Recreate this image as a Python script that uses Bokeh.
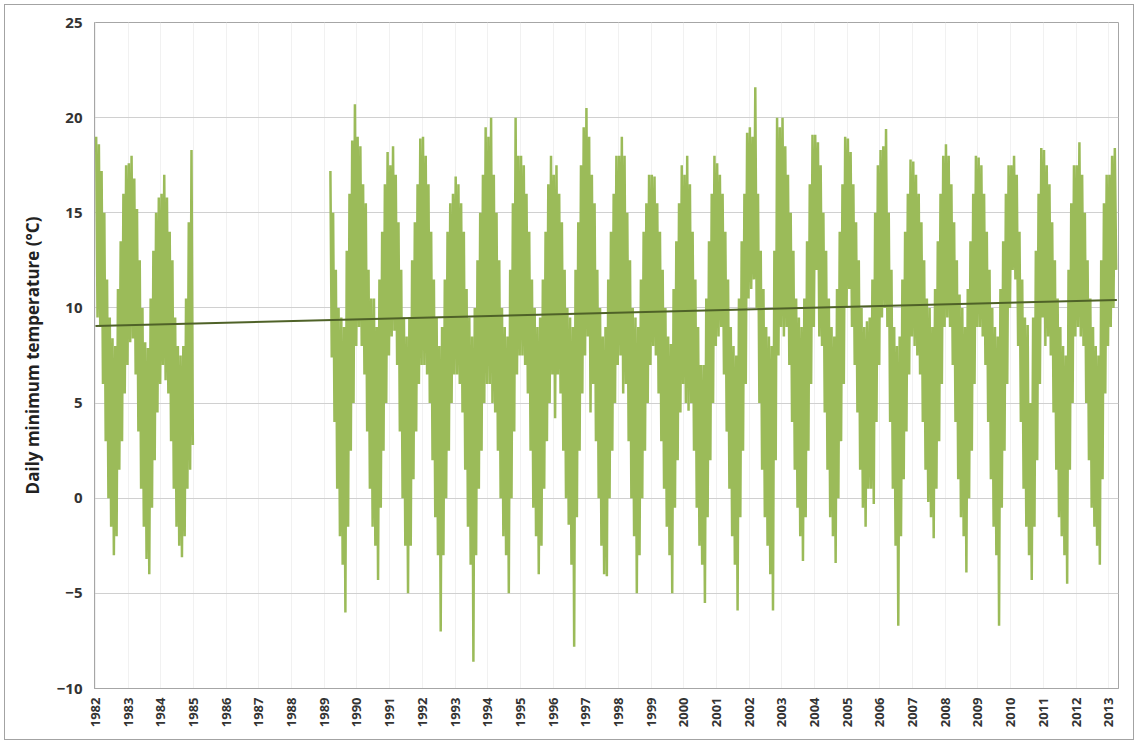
from bokeh.plotting import figure
from bokeh.models import FixedTicker, Range1d, NumeralTickFormatter
from bokeh.embed import file_html
from bokeh.resources import INLINE
import math

# ---------------- data (monthly highest / lowest daily minimum, deg C) ----------------
hi_1982 = [19.0, 18.6, 17.2, 15.0, 11.5, 9.5, 8.4, 8.0, 11.0, 13.5, 16.0, 17.5]
lo_1982 = [9.5, 9.0, 6.0, 3.0, 0.0, -1.5, -3.0, -2.0, 1.5, 3.0, 5.5, 7.0]
hi_1983 = [17.6, 18.0, 16.8, 15.2, 12.5, 10.0, 8.2, 7.9, 10.5, 13.0, 15.0, 15.8]
lo_1983 = [8.2, 8.4, 6.5, 3.5, 0.5, -1.5, -3.2, -4.0, -0.5, 2.0, 4.5, 6.0]
hi_1984 = [16.0, 17.0, 15.8, 14.0, 12.5, 9.5, 8.0, 7.5, 8.0, 10.5, 14.5, 18.3]
lo_1984 = [7.0, 6.2, 5.5, 3.0, 0.5, -1.5, -2.5, -3.1, -2.0, 0.5, 1.5, 2.8]

# 1989 record starts in March
hi_1989 = [17.2, 15.0, 12.0, 10.0, 9.5, 9.0, 13.0, 16.0, 18.8, 20.7]
lo_1989 = [7.4, 4.0, 0.5, -2.0, -3.5, -6.0, -1.5, 2.5, 5.0, 8.0]
hi_1990 = [19.0, 18.5, 16.5, 15.5, 12.0, 10.5, 10.5, 9.0, 11.5, 14.0, 16.5, 18.2]
lo_1990 = [9.0, 8.0, 6.5, 3.5, 0.5, -1.5, -2.5, -4.3, -0.5, 2.5, 5.0, 7.5]
hi_1991 = [17.5, 18.5, 17.0, 14.5, 12.0, 9.5, 8.5, 9.5, 12.5, 14.5, 16.5, 18.9]
lo_1991 = [8.5, 8.8, 7.0, 3.5, 0.0, -2.5, -5.0, -2.5, 1.0, 3.5, 6.0, 7.0]
hi_1992 = [19.0, 18.0, 16.5, 14.0, 11.5, 9.5, 8.0, 9.0, 11.5, 14.0, 15.5, 16.0]
lo_1992 = [7.0, 6.5, 5.0, 2.0, -1.0, -3.0, -7.0, -3.0, 0.0, 2.5, 5.0, 6.5]
hi_1993 = [16.9, 16.5, 15.5, 14.0, 11.0, 9.5, 8.5, 10.0, 12.5, 15.0, 17.0, 19.5]
lo_1993 = [6.5, 6.0, 4.5, 1.5, -1.5, -3.5, -8.6, -3.0, 0.5, 2.5, 5.0, 6.0]
hi_1994 = [19.0, 20.0, 17.0, 15.0, 12.5, 10.0, 9.0, 8.5, 12.0, 15.5, 20.0, 18.0]
lo_1994 = [6.0, 5.0, 4.5, 2.5, 0.0, -2.0, -3.0, -5.0, 0.0, 3.5, 6.5, 7.5]
hi_1995 = [18.0, 17.5, 16.0, 14.0, 11.5, 10.0, 9.0, 9.5, 11.5, 14.0, 16.5, 18.0]
lo_1995 = [7.5, 7.0, 5.5, 2.5, -0.5, -2.0, -4.0, -2.5, 0.5, 3.0, 5.0, 6.5]
hi_1996 = [17.0, 17.5, 16.0, 14.5, 12.0, 10.0, 9.5, 9.0, 12.0, 14.5, 17.5, 19.5]
lo_1996 = [4.2, 6.5, 5.5, 2.5, 0.0, -1.4, -3.5, -7.8, -1.0, 2.5, 5.5, 7.5]
hi_1997 = [20.5, 19.0, 17.0, 15.5, 12.0, 10.0, 8.5, 9.0, 11.5, 14.0, 16.0, 18.0]
lo_1997 = [8.5, 4.5, 6.0, 3.0, 0.0, -2.5, -4.0, -4.1, 0.0, 2.5, 5.0, 7.0]
hi_1998 = [18.0, 19.0, 18.0, 15.0, 12.5, 10.0, 9.5, 9.0, 11.5, 14.0, 15.5, 17.0]
lo_1998 = [7.5, 5.5, 6.0, 3.0, 0.0, -2.0, -5.0, -3.0, 0.0, 2.5, 5.0, 7.0]
hi_1999 = [17.0, 16.9, 15.5, 14.0, 12.0, 10.0, 8.5, 8.1, 11.0, 13.5, 15.5, 17.5]
lo_1999 = [8.0, 7.5, 5.5, 3.0, 0.5, -1.5, -3.0, -5.0, -0.5, 2.0, 4.5, 6.0]
hi_2000 = [17.0, 18.0, 16.5, 14.0, 11.5, 9.0, 7.0, 7.0, 10.5, 13.5, 16.0, 18.0]
lo_2000 = [5.0, 4.6, 5.0, 2.5, -0.5, -2.5, -3.5, -5.5, -1.0, 2.0, 5.0, 8.0]
hi_2001 = [17.6, 17.0, 16.0, 14.0, 11.5, 9.0, 8.0, 7.5, 10.5, 13.5, 16.0, 19.2]
lo_2001 = [8.5, 9.0, 6.5, 3.5, 0.5, -2.0, -3.5, -5.9, -1.0, 2.5, 6.0, 10.5]
hi_2002 = [19.5, 19.0, 21.6, 16.0, 13.0, 11.0, 9.0, 8.5, 8.0, 13.0, 20.0, 19.5]
lo_2002 = [11.0, 11.5, 10.0, 5.0, 1.5, -1.0, -2.5, -4.0, -5.9, 2.0, 7.5, 9.0]
hi_2003 = [20.0, 18.5, 17.0, 15.0, 13.0, 10.5, 9.5, 9.0, 10.5, 13.5, 16.5, 19.1]
lo_2003 = [8.5, 9.0, 7.0, 4.0, 1.5, -0.5, -2.0, -3.3, -1.0, 2.5, 6.0, 9.0]
hi_2004 = [19.1, 18.7, 17.5, 15.0, 13.0, 10.5, 9.0, 8.5, 11.0, 14.0, 16.5, 19.0]
lo_2004 = [12.0, 8.5, 8.0, 4.5, 1.5, -1.0, -2.0, -3.4, 0.0, 3.0, 6.0, 10.0]
hi_2005 = [18.9, 18.2, 16.5, 14.5, 12.5, 10.0, 9.0, 9.3, 9.5, 11.5, 15.0, 17.5]
lo_2005 = [11.0, 9.0, 7.0, 4.5, 1.5, -0.5, -1.5, 0.5, 0.5, -0.3, 4.0, 7.0]
hi_2006 = [18.3, 18.5, 19.4, 15.0, 12.0, 9.0, 8.0, 8.5, 11.5, 14.0, 16.0, 17.8]
lo_2006 = [9.5, 10.0, 9.0, 4.0, 0.5, -2.5, -6.7, -2.0, 1.0, 3.5, 6.5, 8.5]
hi_2007 = [17.7, 17.0, 16.0, 14.5, 12.5, 10.5, 10.0, 9.0, 11.0, 13.5, 16.0, 18.0]
lo_2007 = [8.0, 7.5, 6.5, 4.0, 1.5, -0.2, -1.0, -2.1, 0.5, 3.0, 6.0, 9.0]
hi_2008 = [18.6, 18.0, 16.5, 14.5, 12.5, 10.7, 10.0, 9.0, 11.0, 13.5, 16.0, 18.0]
lo_2008 = [9.5, 9.0, 7.0, 4.0, 1.0, -1.0, -2.0, -3.9, 0.0, 2.5, 6.0, 9.0]
hi_2009 = [17.9, 17.5, 16.0, 14.0, 12.0, 10.0, 9.0, 8.5, 11.0, 13.5, 16.0, 17.5]
lo_2009 = [9.0, 8.5, 7.0, 4.0, 1.0, -1.5, -3.0, -6.7, -0.5, 2.5, 6.0, 10.0]
hi_2010 = [17.5, 18.0, 17.0, 14.0, 11.5, 9.5, 9.1, 5.0, 9.5, 13.0, 16.0, 18.4]
lo_2010 = [12.0, 11.5, 8.0, 4.0, 0.5, -1.5, -3.0, -4.3, -1.5, 2.0, 6.0, 9.5]
hi_2011 = [18.3, 17.5, 16.5, 14.5, 12.5, 10.5, 9.0, 8.0, 7.5, 12.0, 15.5, 17.5]
lo_2011 = [8.0, 8.5, 7.5, 4.5, 1.5, -1.0, -2.0, -3.0, -4.5, 1.5, 5.0, 8.5]
hi_2012 = [17.5, 18.7, 17.0, 15.0, 12.5, 10.5, 9.0, 8.0, 7.5, 12.5, 15.5, 17.0]
lo_2012 = [9.0, 8.5, 8.0, 5.0, 2.0, -0.5, -1.5, -2.5, -3.5, 1.0, 5.5, 8.0]
# 2013 record ends in March
hi_2013 = [17.0, 18.0, 18.4]
lo_2013 = [9.0, 10.0, 12.0]

segment1 = [(1982, 1, hi_1982, lo_1982), (1983, 1, hi_1983, lo_1983), (1984, 1, hi_1984, lo_1984)]
segment2 = [
    (1989, 3, hi_1989, lo_1989), (1990, 1, hi_1990, lo_1990), (1991, 1, hi_1991, lo_1991),
    (1992, 1, hi_1992, lo_1992), (1993, 1, hi_1993, lo_1993), (1994, 1, hi_1994, lo_1994),
    (1995, 1, hi_1995, lo_1995), (1996, 1, hi_1996, lo_1996), (1997, 1, hi_1997, lo_1997),
    (1998, 1, hi_1998, lo_1998), (1999, 1, hi_1999, lo_1999), (2000, 1, hi_2000, lo_2000),
    (2001, 1, hi_2001, lo_2001), (2002, 1, hi_2002, lo_2002), (2003, 1, hi_2003, lo_2003),
    (2004, 1, hi_2004, lo_2004), (2005, 1, hi_2005, lo_2005), (2006, 1, hi_2006, lo_2006),
    (2007, 1, hi_2007, lo_2007), (2008, 1, hi_2008, lo_2008), (2009, 1, hi_2009, lo_2009),
    (2010, 1, hi_2010, lo_2010), (2011, 1, hi_2011, lo_2011), (2012, 1, hi_2012, lo_2012),
    (2013, 1, hi_2013, lo_2013),
]

# linear trend (end points of the fitted line)
trend_x = [1982.0, 2013.25]
trend_y = [9.05, 10.42]

tick_years = list(range(1982, 2014))
y_ticks = [-10, -5, 0, 5, 10, 15, 20, 25]


def build(segment):
    xs, ys = [], []
    for year, first_month, hi, lo in segment:
        for i, (h, l) in enumerate(zip(hi, lo)):
            m = first_month + i - 1
            xs += [year + (m + 0.25) / 12.0, year + (m + 0.75) / 12.0]
            ys += [h, l]
    return xs, ys


x1, y1 = build(segment1)
x2, y2 = build(segment2)

p = figure(
    frame_width=1024, frame_height=666,
    min_border_left=89, min_border_right=15, min_border_top=17, min_border_bottom=51,
    x_range=Range1d(1981.97, 2013.30), y_range=Range1d(-10, 25),
    output_backend="svg", toolbar_location=None,
    background_fill_color="white", border_fill_color="white",
    outline_line_color="#a6a6a6", outline_line_width=1,
)
p.styles = {"margin-left": "4px", "margin-top": "4px", "border": "1px solid #a3a3a3"}

GREEN = "#9bbb59"
p.line(x1, y1, line_color=GREEN, line_width=2.5)
p.line(x2, y2, line_color=GREEN, line_width=2.5)
p.line(trend_x, trend_y, line_color="#4f6228", line_width=2)

# grid
p.ygrid.ticker = FixedTicker(ticks=y_ticks)
p.ygrid.grid_line_color = "#d0d0d0"
p.ygrid.grid_line_width = 1
p.xgrid.ticker = FixedTicker(ticks=tick_years)
p.xgrid.grid_line_color = "#f1f1f1"

# axes
p.xaxis.ticker = FixedTicker(ticks=tick_years)
p.xaxis.formatter = NumeralTickFormatter(format="0")
p.xaxis.major_label_orientation = math.pi / 2
p.xaxis.major_label_text_font = "Open Sans"
p.xaxis.major_label_text_font_style = "bold"
p.xaxis.major_label_text_font_size = "13px"
p.xaxis.major_label_text_color = "#333333"
p.xaxis.major_label_standoff = 9
p.xaxis.major_tick_out = 0
p.xaxis.major_tick_in = 0
p.xaxis.minor_tick_out = 0
p.xaxis.minor_tick_in = 0
p.xaxis.axis_line_color = "#a6a6a6"

p.yaxis.ticker = FixedTicker(ticks=y_ticks)
p.yaxis.major_label_text_font = "Open Sans"
p.yaxis.major_label_text_font_style = "bold"
p.yaxis.major_label_text_font_size = "15px"
p.yaxis.major_label_text_color = "#333333"
p.yaxis.major_label_standoff = 12
p.yaxis.major_tick_out = 0
p.yaxis.major_tick_in = 0
p.yaxis.minor_tick_out = 0
p.yaxis.minor_tick_in = 0
p.yaxis.axis_line_color = "#a6a6a6"
p.yaxis.axis_label = "Daily minimum temperature (°C)"
p.yaxis.axis_label_text_font = "Open Sans"
p.yaxis.axis_label_text_font_style = "bold"
p.yaxis.axis_label_text_font_size = "17px"
p.yaxis.axis_label_text_color = "#222222"
p.yaxis.axis_label_standoff = 10

open("out.html", "w").write(file_html(p, INLINE))
